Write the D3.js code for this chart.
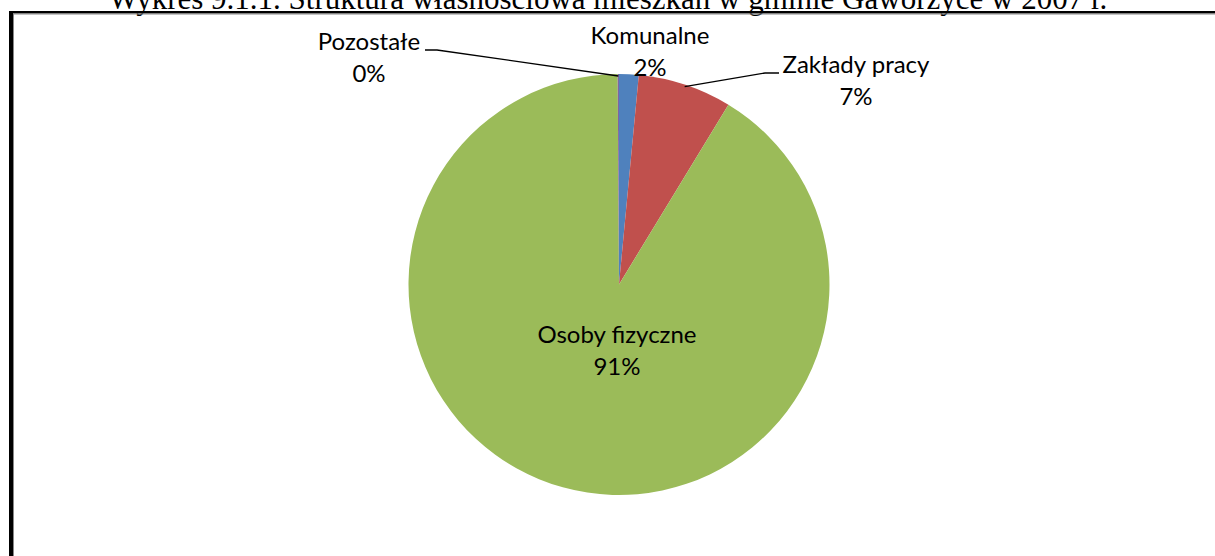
<!DOCTYPE html>
<html>
<head>
<meta charset="utf-8">
<script src="https://cdn.jsdelivr.net/npm/d3@7"></script>
<style>
html,body{margin:0;padding:0;background:#ffffff;}
svg{display:block;}
</style>
</head>
<body>
<svg id="chart" width="1215" height="556"></svg>
<script>
// ---- data ----
const categories = ["Komunalne", "Zakłady pracy", "Osoby fizyczne", "Pozostałe"];
const values = [1.5, 7.2, 91.2, 0.1];
const colors = ["#4F81BD", "#C0504D", "#9BBB59", "#8064A2"];
const title = "Wykres 9.1.1. Struktura własnościowa mieszkań w gminie Gaworzyce w 2007 r.";

// ---- layout ----
const W = 1215, H = 556;
const cx = 619, cy = 284.5, R = 210.5;
const labelFont = "Lato, 'Open Sans', sans-serif";
const labelSize = 24;
const lineGap = 32;
const labelLayout = [
  {x: 650, y: 44, leader: null},
  {x: 856, y: 73, leader: {x0: 779, knee: 765}},
  {x: 617, y: 343, leader: null},
  {x: 369, y: 50, leader: {x0: 425, knee: 437}}
];

const svg = d3.select("#chart");
svg.append("rect").attr("width", W).attr("height", H).attr("fill", "#ffffff");

// title (clipped at the top like in the source)
svg.append("text")
  .attr("x", 608).attr("y", 9)
  .attr("text-anchor", "middle")
  .attr("font-family", "'Liberation Serif', 'Times New Roman', serif")
  .attr("font-size", 31)
  .attr("fill", "#000")
  .text(title);

// frame
svg.append("rect").attr("x", 9).attr("y", 11).attr("width", W - 9).attr("height", 2.5).attr("fill", "#000");
svg.append("rect").attr("x", 13).attr("y", 13.5).attr("width", W - 13).attr("height", 1).attr("fill", "#888");
svg.append("rect").attr("x", 9).attr("y", 11).attr("width", 4).attr("height", H - 11).attr("fill", "#000");
svg.append("rect").attr("x", 13).attr("y", 13.5).attr("width", 1).attr("height", H - 13.5).attr("fill", "#888");

// pie
const pie = d3.pie().sort(null).value(d => d)(values);
const arc = d3.arc().innerRadius(0).outerRadius(R);
const edgeArc = d3.arc().innerRadius(R - 2).outerRadius(R - 2);

const g = svg.append("g").attr("transform", `translate(${cx},${cy})`);
g.selectAll("path.slice").data(pie).enter().append("path")
  .attr("class", "slice")
  .attr("d", arc)
  .attr("fill", (d, i) => colors[i]);

// leader lines
pie.forEach((d, i) => {
  const L = labelLayout[i].leader;
  if (!L) return;
  const [ex, ey] = edgeArc.centroid(d);
  const px = cx + ex, py = cy + ey;
  const ly = labelLayout[i].y;
  const pts = [[L.x0, ly], [L.knee, ly], [px, py]];
  svg.append("path")
    .attr("d", d3.line()(pts))
    .attr("fill", "none")
    .attr("stroke", "#000")
    .attr("stroke-width", 1.3);
});

// labels
pie.forEach((d, i) => {
  const lay = labelLayout[i];
  const t = svg.append("text")
    .attr("text-anchor", "middle")
    .attr("font-family", labelFont)
    .attr("font-size", labelSize)
    .attr("fill", "#000");
  t.append("tspan").attr("x", lay.x).attr("y", lay.y).text(categories[i]);
  t.append("tspan").attr("x", lay.x).attr("y", lay.y + lineGap).text(Math.round(values[i]) + "%");
});
</script>
</body>
</html>
